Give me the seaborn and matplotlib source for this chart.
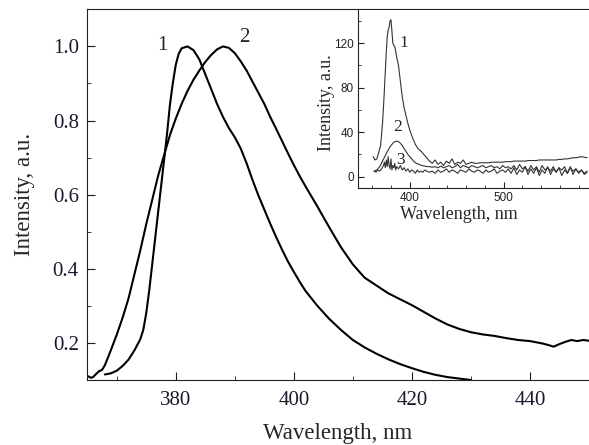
import numpy as np
import pandas as pd
import matplotlib
matplotlib.use("Agg")
import matplotlib.pyplot as plt
from matplotlib.ticker import MultipleLocator
import seaborn as sns

# ====================== DATA ======================
# main panel: normalised spectra
c1_nm = [368, 369, 370, 371, 372, 373, 374, 374.5, 375, 375.5,
         376, 376.5, 377, 377.5, 378, 378.5, 379, 379.5, 380, 380.5,
         381, 382, 383, 384, 385, 386, 387, 388, 389, 390,
         391, 392, 393, 394, 395, 396, 397, 398, 399, 400,
         401, 402, 404, 406, 408, 410, 412, 414, 416, 418,
         420, 422, 424, 426, 428, 430]
c1_int = [0.115, 0.118, 0.125, 0.138, 0.155, 0.18, 0.21, 0.235, 0.28, 0.34,
          0.41, 0.48, 0.55, 0.62, 0.69, 0.76, 0.84, 0.90, 0.95, 0.98,
          0.995, 1.0, 0.99, 0.965, 0.925, 0.885, 0.845, 0.81, 0.78, 0.755,
          0.725, 0.685, 0.64, 0.598, 0.56, 0.522, 0.486, 0.452, 0.42, 0.392,
          0.365, 0.34, 0.3, 0.265, 0.235, 0.208, 0.188, 0.171, 0.156, 0.143,
          0.132, 0.122, 0.114, 0.108, 0.104, 0.1]

c2_nm = [365.2, 365.6, 366, 366.5, 367, 367.5, 368, 369, 370, 371,
         372, 373, 374, 375, 376, 377, 378, 379, 380, 381,
         382, 383, 384, 385, 386, 387, 388, 389, 390, 391,
         392, 393, 394, 395, 396, 397, 398, 399, 400, 401,
         402, 404, 406, 408, 410, 412, 414, 416, 418, 420,
         422, 424, 426, 428, 430, 432, 434, 436, 438, 440,
         442, 443, 444, 445, 446, 447, 448, 449, 450]
c2_int = [0.11, 0.106, 0.108, 0.116, 0.124, 0.127, 0.14, 0.18, 0.222, 0.268,
          0.32, 0.385, 0.45, 0.52, 0.585, 0.65, 0.705, 0.76, 0.805, 0.845,
          0.88, 0.91, 0.935, 0.958, 0.977, 0.992, 1.0, 0.996, 0.982, 0.96,
          0.935, 0.905, 0.875, 0.845, 0.81, 0.778, 0.745, 0.712, 0.68, 0.65,
          0.622, 0.568, 0.512, 0.458, 0.412, 0.376, 0.355, 0.334, 0.318, 0.302,
          0.284, 0.266, 0.25, 0.238, 0.229, 0.223, 0.219, 0.213, 0.208, 0.205,
          0.199, 0.195, 0.19, 0.197, 0.203, 0.208, 0.205, 0.208, 0.206]

# inset: raw spectra 1-3
tail_nm = [421, 424, 427, 430, 433, 436, 439, 442, 445, 448,
           451, 454, 457, 460, 463, 466, 469, 472, 475, 478,
           481, 484, 487, 490, 493, 496, 499, 502, 505, 508,
           511, 514, 517, 520, 523, 526, 529, 532, 535, 538,
           541, 544, 547, 550, 553, 556, 559, 562, 565, 568,
           571, 574, 577, 580, 583, 586, 589]

s1_nm = [361, 363, 365, 367, 369, 371, 372, 373, 374, 375,
         376, 377, 378, 379, 380, 381, 382, 383, 384, 385,
         386, 388, 390, 392, 394, 396, 398, 400, 403, 406,
         409, 412, 415, 418] + tail_nm
s1_int = [18, 15, 16, 22, 28, 48, 62, 78, 95, 112,
          125, 132, 134, 140, 141, 131, 120, 118, 117, 113,
          108, 100, 86, 72, 62, 55, 48, 42, 35, 29,
          25, 23, 20, 17,
          14, 12, 15, 11, 13, 10, 14, 12, 16, 11,
          13, 12, 15, 11, 12, 13, 12, 12, 12.5, 12.5,
          12.5, 12.5, 13, 13, 13, 13, 13, 13.5, 13.5, 13.5,
          14, 14, 14, 14, 14, 14.5, 14.5, 14.5, 14.5, 15,
          15, 15, 15, 15, 15, 15, 15.5, 15.5, 16, 16,
          16.5, 17, 17, 17.5, 18, 17.5, 17]

s2_nm = [362, 365, 368, 371, 374, 377, 380, 383, 386, 389,
         392, 395, 398, 401, 404, 407, 410, 413, 416, 419] + tail_nm
s2_int = [5, 6, 9, 14, 19, 24, 28, 31, 32, 31,
          28, 24, 20, 17, 14, 12, 11, 10, 9.5, 9,
          9, 8.5, 9, 8, 9.5, 8, 9, 10, 8, 9,
          11, 8, 10, 9, 8, 10, 9, 8, 9, 10,
          8, 9, 10, 8, 9, 7, 10, 8, 9, 7,
          10, 6, 11, 7, 9, 5, 10, 6, 9, 4,
          10, 6, 8, 5, 9, 4, 8, 6, 9, 3,
          8, 5, 7, 4, 6, 3, 5]

s3_nm = [362, 364, 366, 368, 370, 372, 373, 374, 375, 376,
         377, 378, 379, 380, 381, 382, 383, 384, 385, 386,
         388, 390, 392, 394, 396, 398, 400, 402, 404, 406,
         408, 410, 412, 414, 416, 418] + tail_nm
s3_int = [5, 4, 6, 5, 7, 10, 13, 8, 15, 9,
          18, 10, 7, 16, 6, 10, 8, 12, 6, 9,
          7, 10, 6, 8, 5, 7, 4, 6, 5, 3,
          6, 4, 5, 4, 6, 5,
          4, 5, 3, 6, 4, 5, 7, 4, 6, 5,
          3, 6, 5, 4, 7, 5, 4, 6, 5, 3,
          6, 4, 5, 7, 3, 5, 6, 4, 7, 3,
          8, 2, 6, 4, 9, 2, 7, 3, 8, 1,
          6, 3, 9, 2, 7, 4, 8, 1, 6, 3,
          9, 2, 7, 3, 6, 2, 4]

# ====================== STYLE ======================
sns.set_style("ticks")
plt.rcParams['font.family'] = ['Liberation Serif', 'DejaVu Serif']
plt.rcParams['axes.edgecolor'] = '#222222'

fig = plt.figure(figsize=(5.89, 4.45), dpi=100)

# ====================== MAIN PANEL ======================
ax = fig.add_axes([0.148, 0.146, 0.852, 0.833])
sns.lineplot(x=c1_nm, y=c1_int, ax=ax, color='black', lw=1.5,
             estimator=None, sort=False)
sns.lineplot(x=c2_nm, y=c2_int, ax=ax, color='black', lw=1.5,
             estimator=None, sort=False)
ax.set_xlim(365, 450)
ax.set_ylim(0.1, 1.1)
ax.xaxis.set_major_locator(MultipleLocator(20))
ax.xaxis.set_minor_locator(MultipleLocator(10))
ax.yaxis.set_major_locator(MultipleLocator(0.2))
ax.yaxis.set_minor_locator(MultipleLocator(0.1))
ax.tick_params(which='both', direction='in', labelsize=15, colors='#1a1a2a')
ax.tick_params(axis='x', which='major', length=6, pad=8)
ax.tick_params(axis='y', which='major', length=6, pad=6)
ax.tick_params(which='minor', length=3)
ax.spines['right'].set_visible(False)
ax.set_xlabel('Wavelength, nm', fontsize=16.5, labelpad=9)
ax.set_ylabel('Intensity, a.u.', fontsize=16.5, labelpad=13)
ax.text(377.8, 1.003, '1', fontsize=15, ha='center', va='center')
ax.text(391.6, 1.025, '2', fontsize=15, ha='center', va='center')

# ====================== INSET ======================
ins = fig.add_axes([0.608, 0.578, 0.392, 0.4])
ins.set_facecolor('white')
sns.lineplot(x=s1_nm, y=s1_int, ax=ins, color='#333333', lw=0.8,
             estimator=None, sort=False)
sns.lineplot(x=s2_nm, y=s2_int, ax=ins, color='#333333', lw=0.8,
             estimator=None, sort=False)
sns.lineplot(x=s3_nm, y=s3_int, ax=ins, color='#333333', lw=0.8,
             estimator=None, sort=False)
ins.set_xlim(345, 591)
ins.set_ylim(-10, 150)
ins.xaxis.set_major_locator(MultipleLocator(100))
ins.xaxis.set_minor_locator(MultipleLocator(20))
ins.yaxis.set_major_locator(MultipleLocator(40))
ins.yaxis.set_minor_locator(MultipleLocator(20))
ins.tick_params(which='both', direction='in', colors='#222222')
ins.tick_params(which='major', length=4, labelsize=8.5, pad=3)
ins.tick_params(which='minor', length=2)
for lab in ins.get_xticklabels() + ins.get_yticklabels():
    lab.set_family(['Liberation Sans', 'DejaVu Sans'])
ins.spines['top'].set_visible(False)
ins.spines['right'].set_visible(False)
ins.set_xlabel('Wavelength, nm', fontsize=13)
ins.set_ylabel('Intensity, a.u.', fontsize=13)
ins.xaxis.set_label_coords(0.437, -0.105)
ins.yaxis.set_label_coords(-0.1, 0.48)
ins.text(393.6, 120, '1', fontsize=12.5, ha='center', va='center')
ins.text(387.3, 44.6, '2', fontsize=12.5, ha='center', va='center')
ins.text(390.5, 15, '3', fontsize=12.5, ha='center', va='center')

fig.savefig('out.png', dpi=100)
